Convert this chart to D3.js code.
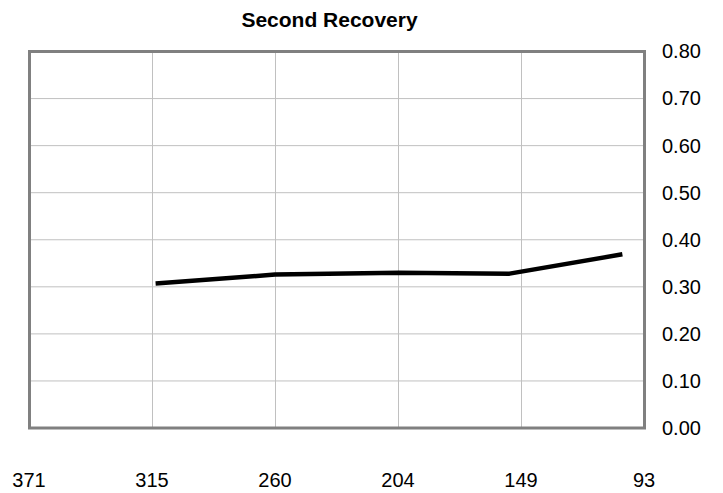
<!DOCTYPE html>
<html>
<head>
<meta charset="utf-8">
<script src="https://cdn.jsdelivr.net/npm/d3@7"></script>
<style>
  body { margin: 0; background: #fff; }
  text { font-family: "Liberation Sans", Arial, sans-serif; }
</style>
</head>
<body>
<script>
// data
const depths = [314, 260, 204, 154, 103];
const recovery = [0.307, 0.326, 0.330, 0.328, 0.369];
const xTicks = [371, 315.4, 259.8, 204.2, 148.6, 93];
const yTicks = [0, 0.1, 0.2, 0.3, 0.4, 0.5, 0.6, 0.7, 0.8];
const title = "Second Recovery";

const width = 723;
const height = 493;
const plot = { left: 29.5, right: 644.5, top: 51.5, bottom: 428 };

const svg = d3.select("body")
  .append("svg")
    .attr("width", width)
    .attr("height", height);

let x = d3.scaleLinear()
  .domain([371, 93])
  .range([plot.left, plot.right]);

let y = d3.scaleLinear()
  .domain([0, 0.8])
  .range([plot.bottom, plot.top]);

// GRID
svg.append("g")
  .selectAll("line")
  .data(xTicks.slice(1, -1))
  .enter()
  .append("line")
    .attr("x1", d => x(d))
    .attr("x2", d => x(d))
    .attr("y1", plot.top)
    .attr("y2", plot.bottom)
    .attr("stroke", "#c0c0c0")
    .attr("stroke-width", 1);

svg.append("g")
  .selectAll("line")
  .data(yTicks.slice(1, -1))
  .enter()
  .append("line")
    .attr("x1", plot.left)
    .attr("x2", plot.right)
    .attr("y1", d => y(d))
    .attr("y2", d => y(d))
    .attr("stroke", "#c0c0c0")
    .attr("stroke-width", 1);

// FRAME
svg.append("rect")
  .attr("x", plot.left)
  .attr("y", plot.top)
  .attr("width", plot.right - plot.left)
  .attr("height", plot.bottom - plot.top)
  .attr("fill", "none")
  .attr("stroke", "#808080")
  .attr("stroke-width", 3);

// AXES (labels only)
let yAxis = d3.axisRight(y)
  .tickValues(yTicks)
  .tickFormat(d3.format(".2f"))
  .tickSize(0)
  .tickPadding(17.5);

svg.append("g")
  .attr("transform", `translate(${plot.right},0)`)
  .call(yAxis)
  .call(g => g.select(".domain").remove())
  .selectAll("text")
    .attr("font-family", "Liberation Sans, Arial, sans-serif")
    .attr("font-size", 20)
    .attr("fill", "#000");

let xAxis = d3.axisBottom(x)
  .tickValues(xTicks)
  .tickFormat(d3.format(".0f"))
  .tickSize(0)
  .tickPadding(45);

svg.append("g")
  .attr("transform", `translate(-1,${plot.bottom})`)
  .call(xAxis)
  .call(g => g.select(".domain").remove())
  .selectAll("text")
    .attr("font-family", "Liberation Sans, Arial, sans-serif")
    .attr("font-size", 20)
    .attr("fill", "#000");

// LINE
let line = d3.line()
  .x((d, i) => x(depths[i]))
  .y(d => y(d));

svg.append("path")
  .datum(recovery)
  .attr("d", line)
  .attr("fill", "none")
  .attr("stroke", "#000")
  .attr("stroke-width", 4.5)
  .attr("stroke-linejoin", "round");

// TITLE
svg.append("text")
  .attr("x", 329.5)
  .attr("y", 27)
  .attr("text-anchor", "middle")
  .attr("font-size", 21)
  .attr("font-weight", "bold")
  .text(title);
</script>
</body>
</html>
